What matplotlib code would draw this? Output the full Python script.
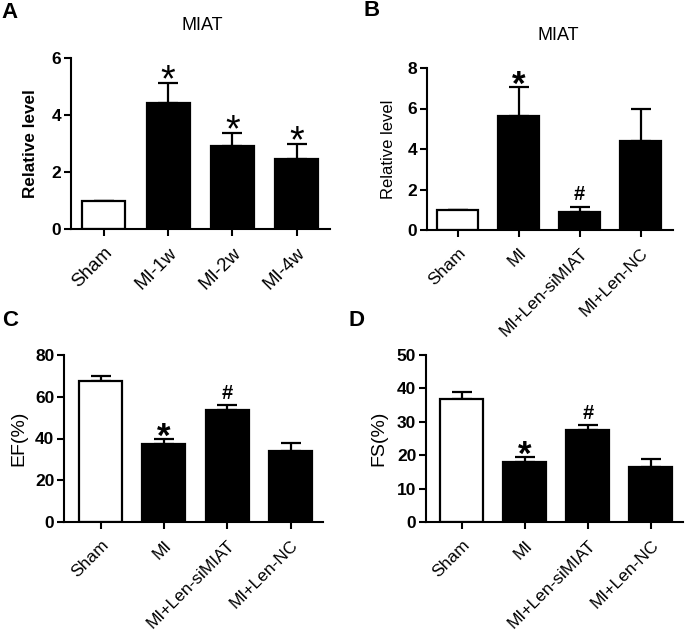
import numpy as np
import matplotlib
matplotlib.use("Agg")
import matplotlib.pyplot as plt
import matplotlib.transforms as mtransforms

plt.rcParams["font.family"] = ["Liberation Sans", "DejaVu Sans"]

# data
groups_a = ["Sham", "MI-1w", "MI-2w", "MI-4w"]
miat_a = [1.0, 4.41, 2.91, 2.47]
miat_a_err = [0.0, 0.71, 0.47, 0.53]
marks_a = ["", "*", "*", "*"]

groups = ["Sham", "MI", "MI+Len-siMIAT", "MI+Len-NC"]
miat_b = [1.0, 5.63, 0.89, 4.38]
miat_b_err = [0.0, 1.45, 0.26, 1.61]
marks_b = ["", "*", "#", ""]

ef = [67.4, 37.2, 53.4, 34.0]
ef_err = [2.5, 2.7, 2.4, 4.0]
fs = [36.8, 18.0, 27.5, 16.5]
fs_err = [2.1, 1.5, 1.5, 2.4]
marks_cd = ["", "*", "#", ""]

W, H = 685, 634
fig = plt.figure(figsize=(W / 100, H / 100), dpi=100)

# (fontsize, weight, baseline offset in points) for significance marks
thin_marks = {"*": (27, "normal", -6)}
bold_marks = {"*": (25, "bold", -6), "#": (14.5, "bold", 4.5)}


def px_axes(left, right, top, bottom):
    return fig.add_axes([left / W, 1 - bottom / H, (right - left) / W, (bottom - top) / H])


def bar_panel(ax, labels, vals, errs, marks, ymax, ystep, xlim, ylabel,
              ylabel_bold, ylabel_size, mark_style, xfont, width=0.68):
    x = np.arange(len(vals))
    colors = ["white"] + ["black"] * (len(vals) - 1)
    ax.bar(x, vals, width=width, color=colors, edgecolor="black", linewidth=1.6, zorder=2)
    ax.errorbar(x, vals, yerr=[np.zeros(len(errs)), errs], fmt="none", ecolor="black",
                elinewidth=1.6, capsize=7.5, capthick=1.6, zorder=1)
    for xi, v, e, m in zip(x, vals, errs, marks):
        if m:
            size, weight, off = mark_style[m]
            ax.annotate(m, (xi, v + e), xytext=(0, off), textcoords="offset points",
                        ha="center", va="baseline", fontsize=size, fontweight=weight)
    ax.set_xlim(*xlim)
    ax.set_ylim(0, ymax)
    ax.set_yticks(np.arange(0, ymax + 0.01, ystep))
    ax.set_xticks(x)
    ax.set_xticklabels(labels, rotation=45, ha="right", rotation_mode="anchor", fontsize=xfont)
    shift = mtransforms.ScaledTranslation(4 / 100, 0, fig.dpi_scale_trans)
    for t in ax.get_xticklabels():
        t.set_transform(t.get_transform() + shift)
    for t in ax.get_yticklabels():
        t.set_fontweight("bold")
        t.set_fontsize(12.5)
    ax.set_ylabel(ylabel, fontsize=ylabel_size, fontweight="bold" if ylabel_bold else "normal")
    for s in ["top", "right"]:
        ax.spines[s].set_visible(False)
    for s in ["left", "bottom"]:
        ax.spines[s].set_linewidth(1.5)
    ax.tick_params(axis="both", width=1.5, length=5, pad=2)
    ax.tick_params(axis="x", pad=6)


axA = px_axes(71, 330, 58, 229)
bar_panel(axA, groups_a, miat_a, miat_a_err, marks_a, 6, 2, (-0.51, 3.52),
          "Relative level", True, 12.3, thin_marks, 13.5, width=0.67)
axA.yaxis.set_label_coords(-0.127, 0.5)

axB = px_axes(427, 673, 68, 230)
bar_panel(axB, groups, miat_b, miat_b_err, marks_b, 8, 2, (-0.5, 3.53),
          "Relative level", False, 12, bold_marks, 12.5)
axB.yaxis.set_label_coords(-0.126, 0.5)

axC = px_axes(64, 323, 354.7, 522.3)
bar_panel(axC, groups, ef, ef_err, marks_cd, 80, 20, (-0.577, 3.51),
          "EF(%)", False, 14, bold_marks, 12.5)
axC.yaxis.set_label_coords(-0.143, 0.5)

axD = px_axes(426, 683, 354.7, 522.3)
bar_panel(axD, groups, fs, fs_err, marks_cd, 50, 10, (-0.57, 3.51),
          "FS(%)", False, 14, bold_marks, 12.5)
axD.yaxis.set_label_coords(-0.152, 0.5)

fig.text(202 / W, 1 - 25 / H, "MIAT", ha="center", va="center", fontsize=13)
fig.text(558 / W, 1 - 35 / H, "MIAT", ha="center", va="center", fontsize=13)

for lbl, (px, py) in zip("ABCD", [(10, 12), (372, 11), (10, 320), (357, 320)]):
    fig.text(px / W, 1 - py / H, lbl, ha="center", va="center", fontsize=16, fontweight="bold")

fig.savefig("out.png", dpi=100)
